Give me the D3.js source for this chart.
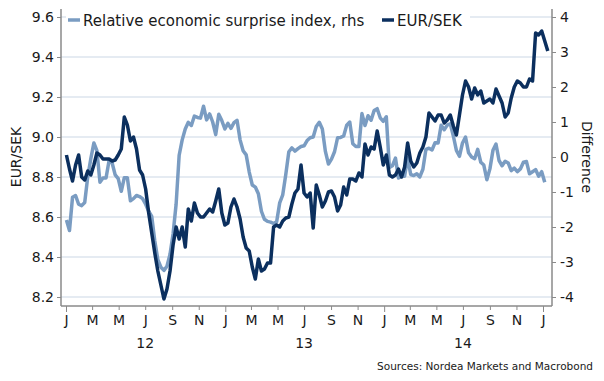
<!DOCTYPE html>
<html><head><meta charset="utf-8">
<script src="https://cdn.jsdelivr.net/npm/d3@7"></script>
<style>
html,body{margin:0;padding:0;background:#fff;}
svg{display:block;font-family:"DejaVu Sans",Verdana,sans-serif;}
</style></head>
<body><svg id="c" width="604" height="381"></svg>
<script>
const dates = [
"2012-01-02","2012-01-09","2012-01-16","2012-01-23","2012-01-30","2012-02-06","2012-02-13","2012-02-20","2012-02-27",
"2012-03-05","2012-03-12","2012-03-19","2012-03-26","2012-04-02","2012-04-09","2012-04-16","2012-04-23","2012-04-30",
"2012-05-07","2012-05-14","2012-05-21","2012-05-28","2012-06-04","2012-06-11","2012-06-18","2012-06-25",
"2012-07-02","2012-07-09","2012-07-16","2012-07-23","2012-07-30","2012-08-06","2012-08-13","2012-08-20","2012-08-27",
"2012-09-03","2012-09-10","2012-09-17","2012-09-24","2012-10-01","2012-10-08","2012-10-15","2012-10-22","2012-10-29",
"2012-11-05","2012-11-12","2012-11-19","2012-11-26","2012-12-03","2012-12-10","2012-12-17","2012-12-24","2012-12-31",
"2013-01-07","2013-01-14","2013-01-21","2013-01-28","2013-02-04","2013-02-11","2013-02-18","2013-02-25",
"2013-03-04","2013-03-11","2013-03-18","2013-03-25","2013-04-01","2013-04-08","2013-04-15","2013-04-22","2013-04-29",
"2013-05-06","2013-05-13","2013-05-20","2013-05-27","2013-06-03","2013-06-10","2013-06-17","2013-06-24",
"2013-07-01","2013-07-08","2013-07-15","2013-07-22","2013-07-29","2013-08-05","2013-08-12","2013-08-19","2013-08-26",
"2013-09-02","2013-09-09","2013-09-16","2013-09-23","2013-09-30","2013-10-07","2013-10-14","2013-10-21","2013-10-28",
"2013-11-04","2013-11-11","2013-11-18","2013-11-25","2013-12-02","2013-12-09","2013-12-16","2013-12-23","2013-12-30",
"2014-01-06","2014-01-13","2014-01-20","2014-01-27","2014-02-03","2014-02-10","2014-02-17","2014-02-24",
"2014-03-03","2014-03-10","2014-03-17","2014-03-24","2014-03-31","2014-04-07","2014-04-14","2014-04-21","2014-04-28",
"2014-05-05","2014-05-12","2014-05-19","2014-05-26","2014-06-02","2014-06-09","2014-06-16","2014-06-23","2014-06-30",
"2014-07-07","2014-07-14","2014-07-21","2014-07-28","2014-08-04","2014-08-11","2014-08-18","2014-08-25",
"2014-09-01","2014-09-08","2014-09-15","2014-09-22","2014-09-29","2014-10-06","2014-10-13","2014-10-20","2014-10-27",
"2014-11-03","2014-11-10","2014-11-17","2014-11-24","2014-12-01","2014-12-08","2014-12-15","2014-12-22","2014-12-29",
"2015-01-05","2015-01-12"];

const eurSek = [
8.91,8.84,8.78,8.86,8.91,8.80,8.785,8.83,8.81,8.86,8.92,8.91,8.89,8.89,8.89,8.88,8.885,8.91,8.94,9.10,
9.06,8.98,9.00,8.94,8.835,8.81,8.74,8.62,8.52,8.42,8.33,8.26,8.19,8.24,8.33,8.46,8.55,8.49,8.55,8.45,
8.64,8.58,8.67,8.62,8.60,8.60,8.62,8.64,8.625,8.68,8.74,8.62,8.56,8.57,8.65,8.69,8.65,8.59,8.50,8.445,
8.43,8.35,8.29,8.39,8.33,8.34,8.37,8.37,8.55,8.56,8.55,8.58,8.595,8.60,8.665,8.72,8.74,8.86,8.72,8.70,
8.72,8.545,8.76,8.71,8.65,8.68,8.725,8.73,8.70,8.63,8.66,8.75,8.71,8.79,8.79,8.78,8.82,8.80,8.965,8.91,
8.95,8.94,9.03,8.95,8.86,8.91,8.81,8.80,8.81,8.84,8.80,8.85,8.97,8.88,8.85,8.87,8.92,8.95,9.00,9.12,
9.10,9.08,9.11,9.11,9.07,9.085,9.11,9.055,9.01,9.11,9.21,9.28,9.25,9.19,9.245,9.21,9.23,9.17,9.18,9.19,
9.17,9.24,9.205,9.17,9.10,9.12,9.195,9.25,9.28,9.27,9.25,9.25,9.29,9.28,9.52,9.51,9.53,9.48,9.43];

const surprise = [
-1.80,-2.10,-1.15,-1.10,-1.35,-1.39,-1.30,-0.56,-0.05,0.40,0.18,-0.72,-0.60,-0.60,-0.10,-0.17,-0.51,-0.62,-0.98,-0.59,
-0.59,-1.25,-1.19,-1.10,-1.13,-1.19,-1.35,-1.55,-1.70,-2.40,-2.93,-3.15,-3.24,-3.12,-2.78,-2.20,-1.35,0.05,0.49,0.80,
0.99,0.90,1.17,1.13,1.11,1.45,1.06,1.23,1.00,0.64,1.22,1.04,0.80,0.96,0.82,0.98,1.05,0.49,0.18,0.06,
-0.43,-0.80,-0.86,-1.05,-1.55,-1.78,-1.84,-1.86,-1.90,-1.85,-1.31,-1.08,-0.50,0.15,0.26,0.17,0.24,0.30,0.32,0.47,
0.55,0.57,0.87,0.99,0.80,0.16,-0.20,-0.06,0.15,0.55,0.56,0.60,0.91,1.00,0.38,0.30,0.30,1.24,0.90,1.18,
1.05,1.33,1.38,1.12,1.02,1.15,-0.30,-0.25,-0.03,-0.60,-0.55,-0.55,-0.02,-0.50,-0.53,-0.48,-0.57,-0.35,0.22,0.25,
0.20,0.41,0.40,0.91,0.78,0.91,0.95,0.60,0.19,0.02,0.40,0.57,0.12,0.00,-0.05,0.22,-0.15,-0.23,-0.65,-0.34,
0.19,0.37,-0.10,-0.25,-0.12,-0.17,-0.39,-0.32,-0.42,-0.34,-0.15,-0.13,-0.48,-0.42,-0.36,-0.55,-0.42,-0.72,null];

const leftTicks = [8.2, 8.4, 8.6, 8.8, 9.0, 9.2, 9.4, 9.6];
const rightTicks = [-4, -3, -2, -1, 0, 1, 2, 3, 4];
const monthLetters = ["J","F","M","A","M","J","J","A","S","O","N","D"];
const yearLabels = ["12", "13", "14"];
const seriesNames = ["Relative economic surprise index, rhs", "EUR/SEK"];
const leftTitle = "EUR/SEK";
const rightTitle = "Difference";
const source = "Sources: Nordea Markets and Macrobond";

const C_DARK = "#0b2f5e", C_LIGHT = "#7a9cc2", C_GRID = "#dde5ee", C_AXIS = "#8a8a8a", C_TEXT = "#1a1a1a";

const parse = d3.utcParse("%Y-%m-%d");
const dts = dates.map(parse);
const svg = d3.select("#c");

const L = 61, R = 552, T = 9, B = 306;
const x = d3.scaleUtc().domain([Date.UTC(2012,0,1), Date.UTC(2015,0,1)]).range([66, 543]);
const yL = d3.scaleLinear().domain([8.2, 9.6]).range([297, 17]);
const yR = d3.scaleLinear().domain([-4, 4]).range([297, 17]);

// grid
svg.append("g").selectAll("line").data(leftTicks).join("line")
  .attr("x1", L).attr("x2", R).attr("y1", d => yL(d)).attr("y2", d => yL(d))
  .attr("stroke", C_GRID).attr("stroke-width", 1.5);

// lines
const lineR = d3.line().defined(d => d[1] != null).x(d => x(d[0])).y(d => yR(d[1]));
const lineL = d3.line().defined(d => d[1] != null).x(d => x(d[0])).y(d => yL(d[1]));
svg.append("path").datum(dts.map((d, i) => [d, surprise[i]]))
  .attr("d", lineR).attr("fill", "none").attr("stroke", C_LIGHT).attr("stroke-width", 3.5).attr("stroke-linejoin", "round");
svg.append("path").datum(dts.map((d, i) => [d, eurSek[i]]))
  .attr("d", lineL).attr("fill", "none").attr("stroke", C_DARK).attr("stroke-width", 3.5).attr("stroke-linejoin", "round");

// axes
const axL = svg.append("g").attr("transform", `translate(${L},0)`)
  .call(d3.axisLeft(yL).tickValues(leftTicks).tickFormat(d3.format(".1f")).tickSize(4).tickPadding(3));
const axR = svg.append("g").attr("transform", `translate(${R},0)`)
  .call(d3.axisRight(yR).tickValues(rightTicks).tickFormat(d => d < 0 ? "-" + Math.abs(d) : d).tickSize(4).tickPadding(4));
const monthTicks = d3.utcMonth.every(2).range(Date.UTC(2012,0,1), Date.UTC(2015,0,2));
const axB = svg.append("g").attr("transform", `translate(0,${B})`)
  .call(d3.axisBottom(x).tickValues(monthTicks).tickFormat(d => monthLetters[d.getUTCMonth()]).tickSize(4).tickPadding(5));
[axL, axR, axB].forEach(a => {
  a.select(".domain").remove();
  a.selectAll(".tick line").attr("stroke", C_AXIS);
  a.selectAll("text").attr("fill", C_TEXT).attr("font-size", 14).attr("font-family", "DejaVu Sans, Verdana, sans-serif");
});
axB.selectAll(".tick line").attr("y2", d => d.getUTCMonth() === 0 ? 6 : 4);
svg.append("line").attr("x1", L).attr("x2", L).attr("y1", T).attr("y2", B).attr("stroke", C_AXIS).attr("stroke-width", 1.5);
svg.append("line").attr("x1", R).attr("x2", R).attr("y1", T).attr("y2", B).attr("stroke", C_AXIS).attr("stroke-width", 1.5);
svg.append("line").attr("x1", L).attr("x2", R).attr("y1", B).attr("y2", B).attr("stroke", C_AXIS).attr("stroke-width", 1.5);

// year labels
svg.append("g").selectAll("text").data(yearLabels).join("text")
  .attr("x", (d, i) => x(Date.UTC(2012 + i, 6, 1))).attr("y", 348)
  .attr("text-anchor", "middle").attr("font-size", 14).attr("fill", C_TEXT).text(d => d);

// axis titles
svg.append("text").attr("transform", "translate(21,157) rotate(-90)").attr("text-anchor", "middle")
  .attr("font-size", 14).attr("fill", C_TEXT).text(leftTitle);
svg.append("text").attr("transform", "translate(582,157) rotate(90)").attr("text-anchor", "middle")
  .attr("font-size", 14).attr("fill", C_TEXT).text(rightTitle);

// legend
const leg = svg.append("g");
leg.append("rect").attr("x", 66).attr("y", 11).attr("width", 404).attr("height", 19).attr("fill", "#fff");
const legItems = [{name: seriesNames[0], color: C_LIGHT, x: 68}, {name: seriesNames[1], color: C_DARK, x: 382}];
legItems.forEach(it => {
  leg.append("line").attr("x1", it.x).attr("x2", it.x + 12).attr("y1", 20).attr("y2", 20)
    .attr("stroke", it.color).attr("stroke-width", 3.5);
  leg.append("text").attr("x", it.x + 15).attr("y", 26).attr("font-size", 15).attr("fill", C_TEXT).text(it.name);
});

// source
svg.append("text").attr("x", 593).attr("y", 370).attr("text-anchor", "end")
  .attr("font-size", 10.5).attr("fill", C_TEXT).text(source);
</script></body></html>
